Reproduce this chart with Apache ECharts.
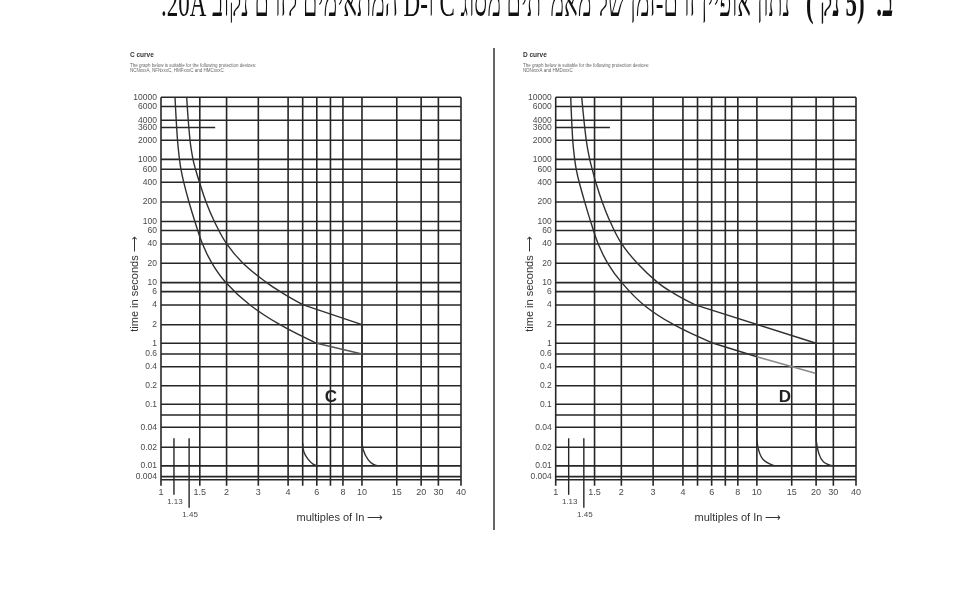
<!DOCTYPE html>
<html>
<head>
<meta charset="utf-8">
<script src="https://cdn.jsdelivr.net/npm/echarts@6/dist/echarts.min.js"></script>
<style>
html, body { margin: 0; padding: 0; background: #fff; }
#main { width: 970px; height: 590px; }
</style>
</head>
<body>
<div id="main"></div>
<script>
// axis ranges (log axes, both panels drawn on the same paper)
var xMin = 1, xMax = 31.1;
var yMin = 0.00593, yMax = 10300;

// vertical grid lines: printed label and where the line sits on the paper
var xGridLabels = ['1', '1.5', '2', '3', '4', '', '6', '', '8', '10', '15', '20', '30', '40'];
var xGridAt = [1, 1.56, 2.12, 3.05, 4.29, 5.07, 5.96, 6.97, 8.04, 10, 14.9, 19.7, 24.0, 31.1];
var xShortLabels = ['1.13', '1.45'];
var xShortAt = [1.16, 1.38];

// horizontal grid lines
var yGridLabels = ['10000', '6000', '4000', '2000', '1000', '600', '400', '200', '100', '60', '40', '20', '10', '6', '4', '2', '1', '0.6', '0.4', '0.2', '0.1', '', '0.04', '0.02', '0.01', '0.004', ''];
var yGridAt = [10300, 7300, 4350, 2050, 1000, 690, 423, 202, 97, 69, 41.7, 20.2, 9.75, 6.95, 4.22, 2.01, 1, 0.669, 0.415, 0.203, 0.101, 0.0676, 0.0426, 0.0201, 0.01, 0.00667, 0.00593];
var yShortLabels = ['3600'];
var yShortAt = [3310];
var yShortTo = 1.86;

// C curve
var cUpper = [[1.342, 10300], [1.394, 2070], [1.443, 1000], [1.485, 690], [1.554, 423], [1.675, 202], [1.846, 96], [2.123, 41.7], [2.559, 20.2], [3.357, 9.75], [4.045, 6.54], [5.105, 4.22]];
var cUpperLine = [[5.105, 4.22], [10, 2.01], [10, 0.0282]];
var cUpperTail = [[10, 0.0282], [10.15, 0.0182], [10.75, 0.0125], [11.35, 0.0107], [12.05, 0.01]];
var cLower = [[1.174, 10300], [1.208, 2070], [1.236, 1000], [1.257, 690], [1.298, 423], [1.378, 202], [1.476, 96], [1.609, 41.7], [1.794, 20.2], [2.106, 9.75], [2.773, 4.22], [3.91, 2.01], [5.95, 1.0]];
var cLowerLine = [[5.95, 1.0], [10, 0.669]];
var cLowerTail = [[5.07, 0.0234], [5.14, 0.0169], [5.39, 0.0129], [5.71, 0.0107], [6.06, 0.01]];

// D curve
var dUpper = [[1.347, 10300], [1.418, 2070], [1.476, 1000], [1.519, 690], [1.581, 423], [1.704, 202], [1.867, 96], [2.13, 41.7], [2.545, 20.2], [3.218, 9.75], [3.842, 6.6], [4.943, 4.22]];
var dUpperLine = [[4.943, 4.22], [19.7, 1.0], [19.7, 0.0265]];
var dUpperTail = [[19.7, 0.0265], [20.3, 0.0161], [21.4, 0.0117], [23.9, 0.01]];
var dLower = [[1.188, 10300], [1.215, 2070], [1.243, 1000], [1.265, 690], [1.309, 423], [1.394, 202], [1.493, 96], [1.627, 41.7], [1.814, 20.2], [2.13, 9.75], [2.741, 4.22], [3.864, 2.01], [6.08, 1.0]];
var dLowerLine = [[6.08, 1.0], [10, 0.604], [10, 0.0282]];
var dLowerFade = [[10, 0.604], [19.5, 0.324]];
var dLowerTail = [[10, 0.0282], [10.2, 0.0182], [10.8, 0.0125], [12.3, 0.01]];

var FONT = '"Liberation Sans", Arial, sans-serif';
var HEB_FONT = '"Liberation Serif", "DejaVu Serif", serif';
var GRID_COLOR = '#262626';
var LABEL_COLOR = '#4a4a4a';

var chart = echarts.init(document.getElementById('main'));

function vGrid(params, api) {
  var x = api.value(0);
  var top = api.coord([x, yMax]);
  var bot = api.coord([x, yMin]);
  return {
    type: 'group',
    children: [
      { type: 'line', shape: { x1: top[0], y1: top[1], x2: bot[0], y2: bot[1] + 6 },
        style: { stroke: GRID_COLOR, lineWidth: 1.6 } },
      { type: 'text', style: { text: xGridLabels[params.dataIndex], x: bot[0], y: bot[1] + 13,
        align: 'center', verticalAlign: 'middle', font: '9px ' + FONT, fill: LABEL_COLOR } }
    ]
  };
}

function vShort(params, api) {
  var i = params.dataIndex;
  var x = api.value(0);
  var top = api.coord([x, 0.0282]);
  var bot = api.coord([x, yMin]);
  var drop = i === 0 ? 15 : 28;
  return {
    type: 'group',
    children: [
      { type: 'line', shape: { x1: top[0], y1: top[1], x2: bot[0], y2: bot[1] + drop },
        style: { stroke: GRID_COLOR, lineWidth: 1.4 } },
      { type: 'text', style: { text: xShortLabels[i], x: bot[0] + 1, y: bot[1] + drop + 7,
        align: 'center', verticalAlign: 'middle', font: '8px ' + FONT, fill: LABEL_COLOR } }
    ]
  };
}

function hGrid(params, api) {
  var y = api.value(1);
  var a = api.coord([xMin, y]);
  var b = api.coord([xMax, y]);
  return {
    type: 'group',
    children: [
      { type: 'line', shape: { x1: a[0], y1: a[1], x2: b[0], y2: b[1] },
        style: { stroke: GRID_COLOR, lineWidth: 1.6 } },
      { type: 'text', style: { text: yGridLabels[params.dataIndex], x: a[0] - 4, y: a[1],
        align: 'right', verticalAlign: 'middle', font: '8.5px ' + FONT, fill: LABEL_COLOR } }
    ]
  };
}

function hShort(params, api) {
  var y = api.value(1);
  var a = api.coord([xMin, y]);
  var b = api.coord([yShortTo, y]);
  return {
    type: 'group',
    children: [
      { type: 'line', shape: { x1: a[0], y1: a[1], x2: b[0], y2: b[1] },
        style: { stroke: GRID_COLOR, lineWidth: 1.4 } },
      { type: 'text', style: { text: yShortLabels[params.dataIndex], x: a[0] - 4, y: a[1],
        align: 'right', verticalAlign: 'middle', font: '8.5px ' + FONT, fill: LABEL_COLOR } }
    ]
  };
}

function curve(data, idx, smooth, color) {
  return {
    type: 'line', xAxisIndex: idx, yAxisIndex: idx, data: data,
    smooth: smooth ? 0.4 : false, showSymbol: false, silent: true, clip: false,
    lineStyle: { color: color || '#303030', width: 1.4 }, z: 5
  };
}

var series = [];
[0, 1].forEach(function (idx) {
  series.push({ type: 'custom', xAxisIndex: idx, yAxisIndex: idx, silent: true, clip: false,
    renderItem: vGrid, data: xGridAt.map(function (v) { return [v, yMin]; }) });
  series.push({ type: 'custom', xAxisIndex: idx, yAxisIndex: idx, silent: true, clip: false,
    renderItem: vShort, data: xShortAt.map(function (v) { return [v, yMin]; }) });
  series.push({ type: 'custom', xAxisIndex: idx, yAxisIndex: idx, silent: true, clip: false,
    renderItem: hGrid, data: yGridAt.map(function (v) { return [xMin, v]; }) });
  series.push({ type: 'custom', xAxisIndex: idx, yAxisIndex: idx, silent: true, clip: false,
    renderItem: hShort, data: yShortAt.map(function (v) { return [xMin, v]; }) });
});

series.push(curve(cUpper, 0, true));
series.push(curve(cUpperLine, 0, false));
series.push(curve(cUpperTail, 0, true));
series.push(curve(cLower, 0, true));
series.push(curve(cLowerLine, 0, false, '#555'));
series.push(curve(cLowerTail, 0, true));

series.push(curve(dUpper, 1, true));
series.push(curve(dUpperLine, 1, false));
series.push(curve(dUpperTail, 1, true));
series.push(curve(dLower, 1, true));
series.push(curve(dLowerLine, 1, false));
series.push(curve(dLowerFade, 1, false, '#8a8a8a'));
series.push(curve(dLowerTail, 1, true));

function logAxis(idx, min, max) {
  return { type: 'log', gridIndex: idx, min: min, max: max, logBase: 10, show: false };
}

var subLine1 = 'The graph below is suitable for the following protection devices:';

chart.setOption({
  backgroundColor: '#fff',
  animation: false,
  grid: [
    { left: 161, top: 97.3, width: 300, height: 382.5, containLabel: false, outerBoundsMode: 'none' },
    { left: 555.7, top: 97.3, width: 300.3, height: 382.5, containLabel: false, outerBoundsMode: 'none' }
  ],
  xAxis: [logAxis(0, xMin, xMax), logAxis(1, xMin, xMax)],
  yAxis: [logAxis(0, yMin, yMax), logAxis(1, yMin, yMax)],
  series: series,
  graphic: [
    // question text (cut at the top edge)
    { type: 'text', x: 893, y: 25.5, scaleY: 1.7, originY: 0,
      style: { text: '\u202Bב.  (5 נק\')\u202C', align: 'right', verticalAlign: 'bottom',
        font: 'bold 23px ' + HEB_FONT, fill: '#111' } },
    { type: 'text', x: 790, y: 25.5, scaleY: 1.7, originY: 0,
      style: { text: '\u202Bנתון אופיין זרם-זמן של מאמ"תים מסוג C ו-D המתאימים לזרם נקוב 20A.\u202C',
        align: 'right', verticalAlign: 'bottom', font: '23px ' + HEB_FONT, fill: '#111' } },

    // panel headings
    { type: 'text', x: 130, y: 55, style: { text: 'C curve', font: 'bold 6.5px ' + FONT, fill: '#333', verticalAlign: 'middle' } },
    { type: 'text', x: 130, y: 66, style: { text: subLine1, font: '4.5px ' + FONT, fill: '#666', verticalAlign: 'middle' } },
    { type: 'text', x: 130, y: 70.5, style: { text: 'NCNxxxA, NFNxxxC, HMFxxxC and HMCxxxC', font: '4.5px ' + FONT, fill: '#666', verticalAlign: 'middle' } },
    { type: 'text', x: 523, y: 55, style: { text: 'D curve', font: 'bold 6.5px ' + FONT, fill: '#333', verticalAlign: 'middle' } },
    { type: 'text', x: 523, y: 66, style: { text: subLine1, font: '4.5px ' + FONT, fill: '#666', verticalAlign: 'middle' } },
    { type: 'text', x: 523, y: 70.5, style: { text: 'NDNxxxA and HMDxxxC', font: '4.5px ' + FONT, fill: '#666', verticalAlign: 'middle' } },

    // axis names
    { type: 'text', x: 135, y: 284, rotation: Math.PI / 2,
      style: { text: 'time in seconds \u27F6', font: '11px ' + FONT, fill: '#333', align: 'center', verticalAlign: 'middle' } },
    { type: 'text', x: 530, y: 284, rotation: Math.PI / 2,
      style: { text: 'time in seconds \u27F6', font: '11px ' + FONT, fill: '#333', align: 'center', verticalAlign: 'middle' } },
    { type: 'text', x: 340, y: 518,
      style: { text: 'multiples of In \u27F6', font: '11px ' + FONT, fill: '#333', align: 'center', verticalAlign: 'middle' } },
    { type: 'text', x: 738, y: 518,
      style: { text: 'multiples of In \u27F6', font: '11px ' + FONT, fill: '#333', align: 'center', verticalAlign: 'middle' } },

    // curve letters
    { type: 'text', x: 331, y: 397, style: { text: 'C', font: 'bold 17px ' + FONT, fill: '#222', align: 'center', verticalAlign: 'middle' } },
    { type: 'text', x: 785, y: 397, style: { text: 'D', font: 'bold 17px ' + FONT, fill: '#222', align: 'center', verticalAlign: 'middle' } },

    // divider between the two panels
    { type: 'line', shape: { x1: 494, y1: 48, x2: 494, y2: 530 }, style: { stroke: '#333', lineWidth: 1.5 } }
  ]
});
</script>
</body>
</html>
